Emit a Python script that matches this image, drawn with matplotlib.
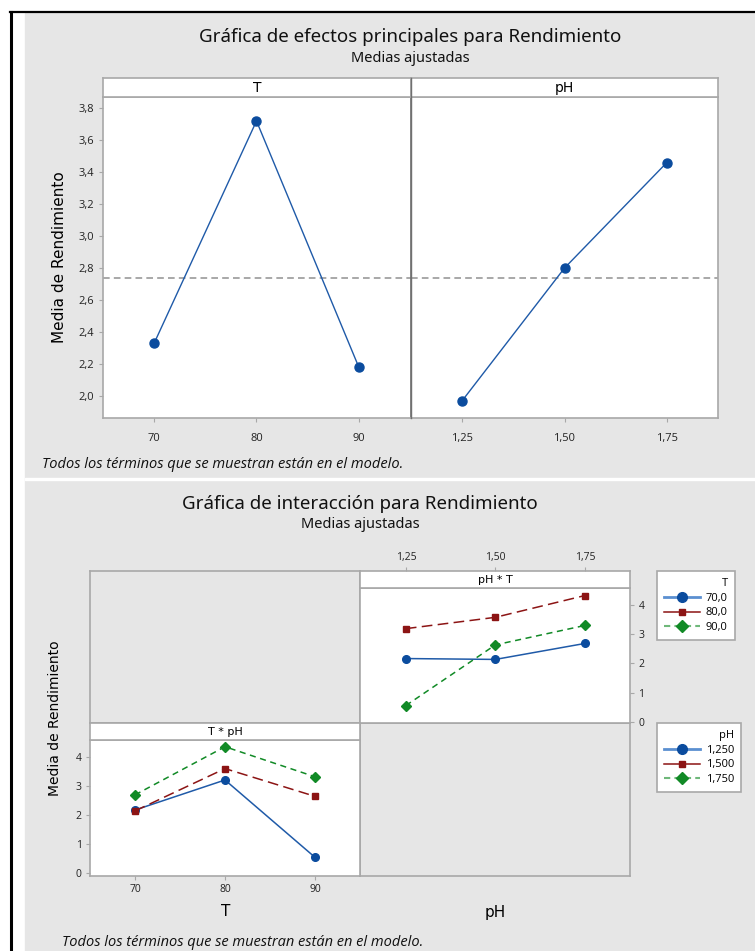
import matplotlib
matplotlib.use('Agg')
import matplotlib.pyplot as plt
from matplotlib.patches import Rectangle
from matplotlib.lines import Line2D

plt.rcParams['font.family'] = ['Open Sans', 'DejaVu Sans']

# datos: efectos principales
t_levels = [70, 80, 90]
t_means = [2.33, 3.72, 2.18]
ph_levels = [1.25, 1.50, 1.75]
ph_means = [1.97, 2.80, 3.46]
grand_mean = 2.74

# datos: interaccion (filas = T, columnas = pH)
t_labels = ['70,0', '80,0', '90,0']
ph_labels = ['1,250', '1,500', '1,750']
inter_t70 = [2.17, 2.14, 2.69]
inter_t80 = [3.20, 3.59, 4.34]
inter_t90 = [0.55, 2.64, 3.31]

W, H = 755, 951
BG = '#e6e6e6'
EDGE = '#a8a8a8'
BLUE = '#1f5aa8'
BLUE_M = '#0b4c9e'
RED = '#8c1414'
GREEN = '#118a26'
TITLE_FONT = ['Noto Sans', 'Open Sans', 'DejaVu Sans']

fig = plt.figure(figsize=(W / 100, H / 100), dpi=100)
fig.patch.set_facecolor('white')


def box(x0, y0, x1, y1):
    return [x0 / W, 1 - y1 / H, (x1 - x0) / W, (y1 - y0) / H]


def fx(x):
    return x / W


def fy(y):
    return 1 - y / H


# fondo gris y marco
fig.add_artist(Rectangle((fx(25), fy(951)), fx(730), (951 - 13) / H,
                         transform=fig.transFigure, color=BG, zorder=0))
fig.add_artist(Rectangle((fx(25), fy(480)), fx(730), 2 / H,
                         transform=fig.transFigure, color='white', zorder=1))
fig.add_artist(Line2D([fx(10), 1], [fy(12), fy(12)], transform=fig.transFigure,
                      color='black', lw=1.6))
fig.add_artist(Line2D([fx(11), fx(11)], [fy(12), 0], transform=fig.transFigure,
                      color='black', lw=2.2))


def style_axes(ax, face='white'):
    ax.set_facecolor(face)
    for s in ax.spines.values():
        s.set_color(EDGE)
        s.set_linewidth(1.2)
    ax.tick_params(colors='#222222', labelsize=8, length=3, width=0.8)
    ax.tick_params(axis='both', which='both', color=EDGE)


def strip(rect, label, size=10):
    sa = fig.add_axes(rect)
    style_axes(sa)
    sa.set_xticks([])
    sa.set_yticks([])
    sa.text(0.5, 0.45, label, ha='center', va='center', fontsize=size,
            transform=sa.transAxes, family=['DejaVu Sans'])
    return sa


# ---------------- efectos principales ----------------
fig.text(fx(410), fy(37), 'Gráfica de efectos principales para Rendimiento',
         ha='center', va='center', fontsize=13.5, fontweight=600,
         family=TITLE_FONT, color='#111111')
fig.text(fx(410), fy(58), 'Medias ajustadas', ha='center', va='center',
         fontsize=10.5, fontweight=500, family=TITLE_FONT, color='#111111')

ylim1 = (1.862, 3.87)
ax_t = fig.add_axes(box(103, 97, 411, 418))
ax_p = fig.add_axes(box(411, 97, 718, 418))
for ax in (ax_t, ax_p):
    style_axes(ax)
    ax.set_ylim(*ylim1)
    ax.axhline(grand_mean, color='#9a9a9a', lw=1.2, ls=(0, (4, 2.5)), zorder=1)

ax_t.plot(t_levels, t_means, color=BLUE, lw=1.0, marker='o', ms=6.5,
          mfc=BLUE_M, mec=BLUE_M, zorder=3)
ax_t.set_xlim(65, 95.1)
ax_t.set_xticks(t_levels)
ax_t.set_xticklabels(['70', '80', '90'])
ax_t.set_yticks([2.0, 2.2, 2.4, 2.6, 2.8, 3.0, 3.2, 3.4, 3.6, 3.8])
ax_t.set_yticklabels(['2,0', '2,2', '2,4', '2,6', '2,8', '3,0', '3,2', '3,4', '3,6', '3,8'])
ax_t.set_ylabel('Media de Rendimiento', fontsize=11, family=['DejaVu Sans'], labelpad=8)
ax_t.spines['right'].set_color('#707070')

ax_p.plot(ph_levels, ph_means, color=BLUE, lw=1.0, marker='o', ms=6.5,
          mfc=BLUE_M, mec=BLUE_M, zorder=3)
ax_p.set_xlim(1.125, 1.875)
ax_p.set_xticks(ph_levels)
ax_p.set_xticklabels(['1,25', '1,50', '1,75'])
ax_p.set_yticks([])
ax_p.spines['left'].set_visible(False)

for ax in (ax_t, ax_p):
    ax.tick_params(axis='x', pad=8)

strip(box(103, 78, 411, 97), 'T')
strip(box(411, 78, 718, 97), 'pH')
fig.add_artist(Line2D([fx(411), fx(411)], [fy(78), fy(418)], transform=fig.transFigure,
                      color='#707070', lw=1.0))

fig.text(fx(42), fy(464), 'Todos los términos que se muestran están en el modelo.',
         ha='left', va='center', fontsize=10.5, style='italic', color='#111111')

# ---------------- interaccion ----------------
fig.text(fx(360), fy(504), 'Gráfica de interacción para Rendimiento',
         ha='center', va='center', fontsize=13.5, fontweight=600,
         family=TITLE_FONT, color='#111111')
fig.text(fx(360), fy(525), 'Medias ajustadas', ha='center', va='center',
         fontsize=10.5, fontweight=500, family=TITLE_FONT, color='#111111')

ylim2 = (-0.05, 4.6)
series_t = [inter_t70, inter_t80, inter_t90]
styles = [
    dict(color=BLUE, ls='-', marker='o', ms=5.5, mfc=BLUE_M, mec=BLUE_M, lw=1.1),
    dict(color=RED, ls=(0, (7, 3.5)), marker='s', ms=5, mfc=RED, mec=RED, lw=1.1),
    dict(color=GREEN, ls=(0, (4, 3)), marker='D', ms=5.5, mfc=GREEN, mec=GREEN, lw=1.1),
]

# celdas vacias
for rect in (box(90, 571, 360, 723), box(360, 723, 630, 876)):
    e = fig.add_axes(rect)
    style_axes(e, face=BG)
    e.set_xticks([])
    e.set_yticks([])

# pH * T (arriba derecha)
ax_pt = fig.add_axes(box(360, 588, 630, 723))
style_axes(ax_pt)
for vals, st in zip(series_t, styles):
    ax_pt.plot(ph_levels, vals, **st)
ax_pt.set_xlim(1.122, 1.876)
ax_pt.set_ylim(*ylim2)
ax_pt.set_xticks([])
ax_pt.yaxis.tick_right()
ax_pt.set_yticks([0, 1, 2, 3, 4])
ax_pt.set_yticklabels(['0', '1', '2', '3', '4'])
ax_pt.tick_params(axis='y', labelsize=7.5, pad=3)

s_pt = strip(box(360, 571, 630, 588), 'pH * T', size=8)
s_pt.set_xlim(1.122, 1.876)
s_pt.xaxis.tick_top()
s_pt.set_xticks(ph_levels)
s_pt.set_xticklabels(['1,25', '1,50', '1,75'])
s_pt.tick_params(axis='x', labelsize=7.5, length=3, pad=3)

# T * pH (abajo izquierda)
ax_tp = fig.add_axes(box(90, 740, 360, 876))
style_axes(ax_tp)
for j, st in enumerate(styles):
    vals = [series_t[i][j] for i in range(3)]
    ax_tp.plot(t_levels, vals, **st)
ax_tp.set_xlim(65, 95)
ax_tp.set_ylim(-0.09, 4.57)
ax_tp.set_xticks(t_levels)
ax_tp.set_xticklabels(['70', '80', '90'])
ax_tp.set_yticks([0, 1, 2, 3, 4])
ax_tp.set_yticklabels(['0', '1', '2', '3', '4'])
ax_tp.tick_params(labelsize=7.5, pad=3)
strip(box(90, 723, 360, 740), 'T * pH', size=8)

fig.text(fx(55), fy(718), 'Media de Rendimiento', ha='center', va='center',
         rotation=90, fontsize=10, family=['DejaVu Sans'])
fig.text(fx(226), fy(912), 'T', ha='center', va='center', fontsize=11,
         family=['DejaVu Sans'])
fig.text(fx(495), fy(912), 'pH', ha='center', va='center', fontsize=11,
         family=['DejaVu Sans'])

# leyendas
leg_styles = [
    dict(color='#5b8fd0', ls='-', marker='o', ms=7, mfc=BLUE_M, mec=BLUE_M, lw=2),
    dict(color=RED, ls='-', marker='s', ms=5, mfc=RED, mec=RED, lw=1.1),
    dict(color='#6fb87a', ls=(0, (3, 2)), marker='D', ms=6.5, mfc=GREEN, mec=GREEN, lw=1.5),
]
handles = [Line2D([], [], **st) for st in leg_styles]


def legend_at(title, labels, top):
    lg = fig.legend(handles, labels, title=title, loc='upper left',
                    bbox_to_anchor=(fx(657), fy(top)), frameon=True,
                    fancybox=False, edgecolor=EDGE, facecolor='white',
                    framealpha=1, fontsize=8, title_fontsize=8, alignment='right',
                    handlelength=3.3, handletextpad=0.5, borderpad=0.6,
                    labelspacing=0.35, borderaxespad=0)
    lg.get_frame().set_linewidth(1.2)
    return lg


legend_at('T', t_labels, 571)
legend_at('pH', ph_labels, 723)

fig.text(fx(62), fy(942), 'Todos los términos que se muestran están en el modelo.',
         ha='left', va='center', fontsize=10.5, style='italic', color='#111111')

fig.savefig('out.png', dpi=100)
